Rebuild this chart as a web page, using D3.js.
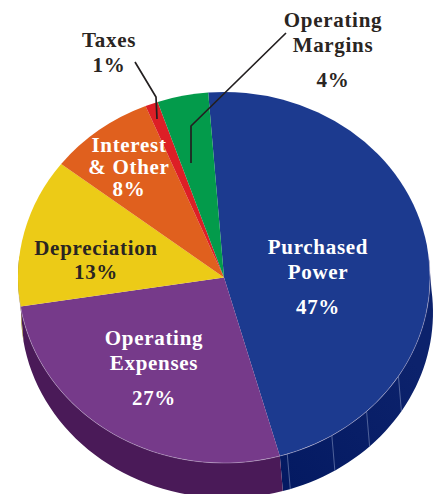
<!DOCTYPE html>
<html><head><meta charset="utf-8">
<script src="https://cdn.jsdelivr.net/npm/d3@7"></script>
<style>html,body{margin:0;padding:0;background:#fff}svg{display:block}
text{font-family:"Liberation Serif",serif;font-weight:700;text-anchor:middle;font-size:21px;letter-spacing:.7px}</style>
</head><body><div id="c"></div>
<script>
const categories=["Purchased Power","Operating Expenses","Depreciation","Interest & Other","Taxes","Operating Margins"];
const values=[46.9,26.9,13.0,8.3,1.0,4.0]; // slice sizes
const topColors=["#1c3a8f","#763a8a","#eccb17","#e0601e","#dd1f26","#039b4b"];
const wallColors=["#09206a","#4a1a58","#8a7410","#8a3a10","#8a1015","#025c2c"];
const labelLines=[["Purchased","Power","","47%"],["Operating","Expenses","","27%"],["Depreciation","13%"],["Interest","& Other","8%"],["Taxes","1%"],["Operating","Margins","","4%"]];
const wallSeamValues=[0.6,4.4,7.8,11.7]; // seams on the blue wall, percent back from the slice end

const W=439,H=494,cx=224,cy=277.5,rx=206,ry=185.5,dx=3,dy=35;
const svg=d3.select("#c").append("svg").attr("width",W).attr("height",H);
const pie=d3.pie().sort(null).startAngle(-4.4*Math.PI/180).endAngle((360-4.4)*Math.PI/180);
const arcs=pie(values);
const px=a=>cx+rx*Math.sin(a), py=a=>cy-ry*Math.cos(a);
const line=d3.line();

const grad=svg.append("defs").append("linearGradient").attr("id","blueWall")
  .attr("gradientUnits","userSpaceOnUse").attr("x1",285).attr("y1",480).attr("x2",420).attr("y2",370);
grad.append("stop").attr("offset",0).attr("stop-color","#041a62");
grad.append("stop").attr("offset",1).attr("stop-color","#0c226c");

function wallPath(a0,a1){
  const s=d3.range(0,41).map(i=>a0+(a1-a0)*i/40);
  const up=s.map(a=>[px(a),py(a)]);
  const lo=s.slice().reverse().map(a=>[px(a)+dx,py(a)+dy]);
  return line(up.concat(lo))+"Z";
}
const frontStart=Math.PI/2-0.12, frontEnd=3*Math.PI/2+0.12;
svg.append("g").selectAll("path").data(arcs.filter(d=>d.endAngle>frontStart&&d.startAngle<frontEnd)).join("path")
  .attr("d",d=>wallPath(Math.max(d.startAngle,frontStart),Math.min(d.endAngle,frontEnd)))
  .attr("fill",d=>d.index===0?"url(#blueWall)":wallColors[d.index]);
const blue=arcs[0];
// seams
svg.append("g").selectAll("line").data(wallSeamValues).join("line")
  .attr("x1",p=>px(blue.endAngle-p/100*2*Math.PI)).attr("y1",p=>py(blue.endAngle-p/100*2*Math.PI))
  .attr("x2",p=>px(blue.endAngle-p/100*2*Math.PI)+dx).attr("y2",p=>py(blue.endAngle-p/100*2*Math.PI)+dy)
  .attr("stroke","#6f80b0").attr("stroke-width",.7);

// top face
const arc=d3.arc().innerRadius(0).outerRadius(rx);
const face=svg.append("g").attr("transform",`translate(${cx},${cy}) scale(1,${ry/rx})`);
face.selectAll("path").data(arcs).join("path").attr("d",arc)
  .attr("fill",d=>topColors[d.index]);
// light rim along front edge
const rim=d3.range(0,81).map(i=>{const a=frontStart+(blue.endAngle+1.75-frontStart)*i/80;return [px(a),py(a)];});
svg.append("path").attr("d",line(rim)).attr("fill","none").attr("stroke","#c9bcd6").attr("stroke-width",.6).attr("opacity",.7);

// leader lines
const leaders=[[[135,62],[156,97],[157,119]],[[286,33],[191,126],[191,163]]];
svg.append("g").selectAll("path").data(leaders).join("path").attr("d",line)
  .attr("fill","none").attr("stroke","#231f20").attr("stroke-width",1.7);

// labels
const anchors=[[318,254],[154,345],[96,255],[129,152],[109,47],[333,27]];
const lead=[25,25,24,22,25,25];
const colors=["#fff","#fff","#2a2522","#fff","#2a2522","#2a2522"];
const g=svg.append("g");
labelLines.forEach((lines,i)=>{
  const t=g.append("text").attr("fill",colors[i]);
  let y=anchors[i][1];
  lines.forEach(l=>{
    if(l===""){y+=lead[i]*.4;return;}
    t.append("tspan").attr("x",anchors[i][0]).attr("y",y).text(l);
    y+=lead[i];
  });
});
</script></body></html>
